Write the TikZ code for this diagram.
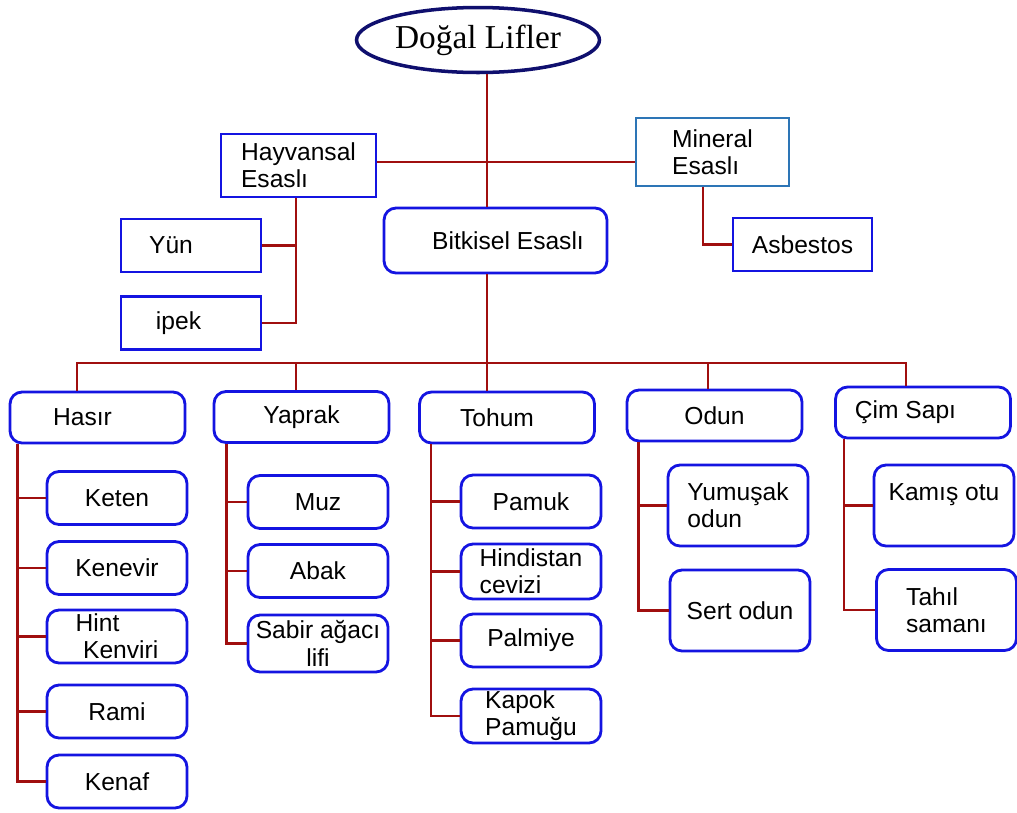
\documentclass[tikz,border=0pt]{standalone}
\usepackage{fontspec}
\setmainfont{Liberation Sans}
\newfontfamily\titlefont{Liberation Serif}
\usetikzlibrary{shapes.geometric,calc}
\definecolor{linkred}{RGB}{160,15,15}
\definecolor{boxblue}{RGB}{20,20,225}
\definecolor{navyline}{RGB}{15,15,110}
\definecolor{steelline}{RGB}{45,117,182}

\begin{document}
\begin{tikzpicture}[x=0.02cm,y=-0.02cm,
  every node/.style={font=\fontsize{14}{15.5}\selectfont,inner sep=0pt,align=center},
  box/.style={draw=boxblue,line width=1.6pt,minimum width=2.8cm,minimum height=1.06cm},
  rbox/.style={box,rounded corners=0.24cm},
  group/.style={rbox,minimum width=3.5cm,minimum height=1.02cm},
  tall/.style={rbox,minimum height=1.62cm},
  link/.style={draw=linkred,line width=1.4pt}]
 \useasboundingbox (0,0) rectangle (1017,812);
 \node[ellipse,draw=navyline,line width=2pt,minimum width=4.86cm,minimum height=1.3cm,
   font=\titlefont\fontsize{19}{22}\selectfont] (top) at (478,40) {Doğal Lifler}; %kök
 \node[box,minimum width=3.1cm,minimum height=1.26cm,align=left] (hayv) at (298.5,165.5) {Hayvansal\\Esaslı};
 \node[box,draw=steelline,minimum width=3.06cm,minimum height=1.36cm,align=left] (mineral) at (712.5,152) {Mineral\\Esaslı};
 \node[rbox,minimum width=4.46cm,minimum height=1.3cm] (bitkisel) at (495.5,240.5) {\hspace*{0.5cm}Bitkisel Esaslı};
 \node[box,minimum width=2.78cm] (asbestos) at (802.5,244.5) {Asbestos};
 \node[box] (yun) at (191,245.5) {Yün\hspace*{0.8cm}};
 \node[box] (ipek) at (191,323) {ipek\hspace*{0.5cm}};
 % bitkisel gruplar
 \node[group] (hasir) at (97.5,417.5) {Hasır\hspace*{0.6cm}};
 \node[group] (yaprak) at (301.5,417) {Yaprak};
 \node[group] (tohum) at (507,417.5) {Tohum\hspace*{0.4cm}};
 \node[group] (odun) at (714.5,415.5) {Odun};
 \node[group] (cim) at (923,412.5) {Çim Sapı\hspace*{0.7cm}};
 % hasir
 \node[rbox] (keten) at (117,498) {Keten};
 \node[rbox] (kenevir) at (117,568) {Kenevir};
 \node[rbox,align=left] (hint) at (117,636.5) {Hint\\\hspace*{0.15cm}Kenviri};
 \node[rbox] (rami) at (117,711.5) {Rami};
 \node[rbox] (kenaf) at (117,781.5) {Kenaf};
 % yaprak
 \node[rbox] (muz) at (318,502) {Muz};
 \node[rbox] (abak) at (318,571) {Abak};
 \node[rbox,minimum height=1.14cm] (sabir) at (318,643.5) {Sabir ağacı\\lifi};
 % tohum
 \node[rbox] (pamuk) at (531,501.5) {Pamuk};
 \node[rbox,minimum height=1.1cm,align=left] (hindistan) at (531,571.5) {Hindistan\\cevizi};
 \node[rbox] (palmiye) at (531,640.5) {Palmiye};
 \node[rbox,minimum height=1.08cm,align=left] (kapok) at (531,716) {Kapok\\Pamuğu};
 % odun
 \node[tall,align=left] (yumusak) at (738,505.5) {Yumuşak\\odun};
 \node[tall] (sert) at (740,610.5) {Sert odun};
 % cim sapi
 \node[tall] (kamis) at (944,505.5) {Kamış otu\\~};
 \node[tall,align=left] (tahil) at (946.5,610) {Tahıl\\samanı};

 \coordinate (hub) at (487,162);
 \coordinate (bus) at (487,363);
 \draw[link] (top.south -| hub) -- (bitkisel.north -| hub); %ana gövde
 \draw[link] (hayv.east |- hub) -- (mineral.west |- hub);
 \draw[link] ([xshift=-0.05cm]hayv.south) |- (yun.east);
 \draw[link] ([xshift=-0.05cm]hayv.south) |- (ipek.east);
 \draw[link] ([xshift=-0.19cm]mineral.south) |- (asbestos.west);
 \draw[link] (bitkisel.south -| bus) -- (bus);
 \foreach \n/\dx in {hasir/-0.41,yaprak/-0.11,tohum/-0.4,odun/-0.13,cim/-0.34}
   \draw[link] ([xshift=\dx cm]\n.north) |- (bus);
 \foreach \p/\dx/\kids in {hasir/0.18/{keten,kenevir,hint,rami,kenaf},
     yaprak/0.28/{muz,abak,sabir},tohum/0.26/{pamuk,hindistan,palmiye,kapok},
     odun/0.26/{yumusak,sert},cim/0.2/{kamis,tahil}}
   \foreach \k in \kids
     \draw[link] ([xshift=\dx cm]\p.south west) |- (\k.west);
\end{tikzpicture}
\end{document}
